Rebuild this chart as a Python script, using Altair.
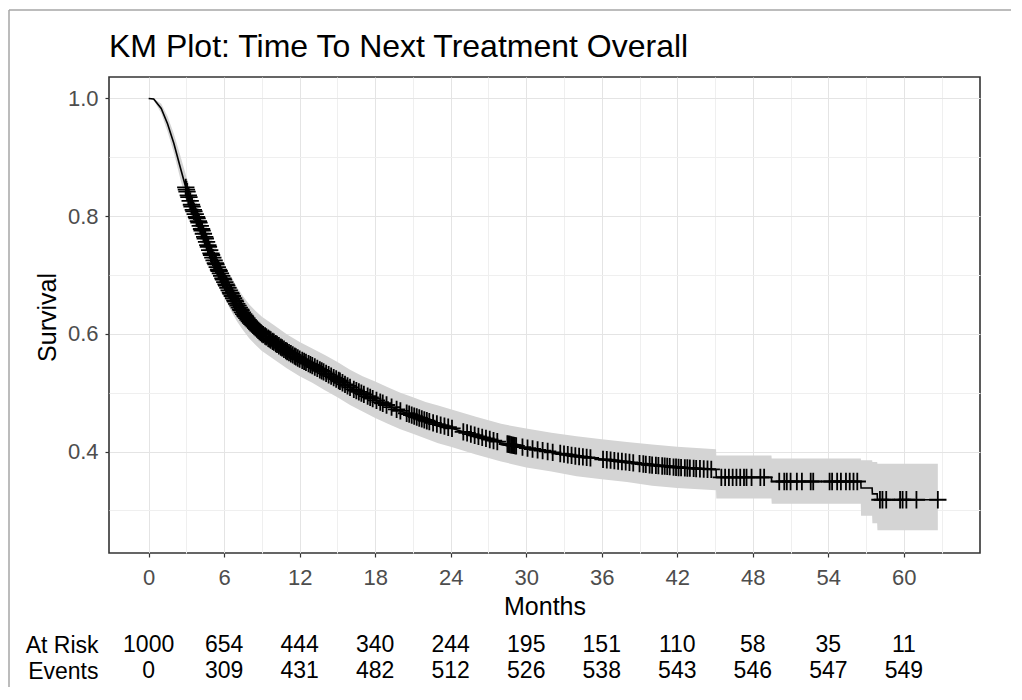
import altair as alt
import pandas as pd
import numpy as np

F = "Liberation Sans, Arial, sans-serif"

# Kaplan-Meier estimate (months, survival, lower CI, upper CI)
curve_t = [0.0, 0.4, 1.0, 1.5, 2.0, 2.5, 3.0, 3.5, 4.0, 4.5, 5.0, 5.5, 6.0, 6.5, 7.0, 7.5,
           8.0, 8.5, 9.0, 10.0, 11.0, 12.0, 13.0, 14.0, 15.0, 16.0, 17.0, 18.0, 19.0, 20.0,
           21.0, 22.0, 23.0, 24.0, 26.0, 28.0, 30.0, 32.0, 34.0, 36.0, 38.0, 40.0, 42.0,
           45.08, 45.1, 49.48, 49.5, 56.58, 56.6, 57.48, 57.5, 57.88, 57.9, 62.7]
curve_s = [1.000, 0.999, 0.983, 0.957, 0.924, 0.884, 0.845, 0.813, 0.789, 0.762, 0.734, 0.711,
           0.690, 0.670, 0.651, 0.635, 0.621, 0.610, 0.600, 0.585, 0.570, 0.557, 0.546, 0.534,
           0.522, 0.509, 0.498, 0.488, 0.478, 0.469, 0.461, 0.453, 0.446, 0.440, 0.427, 0.415,
           0.406, 0.399, 0.392, 0.387, 0.382, 0.377, 0.373,
           0.369, 0.356, 0.356, 0.349, 0.349, 0.338, 0.338, 0.328, 0.328, 0.318, 0.318]
curve_lo = [1.000, 0.997, 0.975, 0.944, 0.908, 0.865, 0.823, 0.789, 0.764, 0.736, 0.707, 0.683,
            0.662, 0.641, 0.622, 0.606, 0.592, 0.581, 0.571, 0.556, 0.541, 0.528, 0.517, 0.504,
            0.492, 0.479, 0.468, 0.457, 0.447, 0.438, 0.430, 0.422, 0.414, 0.408, 0.395, 0.383,
            0.373, 0.366, 0.358, 0.353, 0.348, 0.342, 0.338,
            0.334, 0.320, 0.320, 0.311, 0.311, 0.291, 0.291, 0.278, 0.278, 0.266, 0.266]
curve_hi = [1.000, 1.000, 0.991, 0.970, 0.940, 0.904, 0.867, 0.837, 0.814, 0.788, 0.761, 0.739,
            0.718, 0.699, 0.680, 0.664, 0.650, 0.639, 0.629, 0.614, 0.599, 0.586, 0.575, 0.564,
            0.552, 0.539, 0.528, 0.519, 0.509, 0.500, 0.492, 0.484, 0.478, 0.472, 0.459, 0.447,
            0.439, 0.432, 0.426, 0.421, 0.416, 0.412, 0.408,
            0.404, 0.393, 0.393, 0.388, 0.388, 0.385, 0.385, 0.382, 0.382, 0.379, 0.379]

# Censoring times (months)
censor_t = [2.95, 3.0, 3.05, 3.15, 3.2, 3.3, 3.4, 3.45, 3.55, 3.6, 3.7, 3.8, 3.85, 3.95, 4.0,
            4.1, 4.2, 4.25, 4.35, 4.45, 4.5, 4.6, 4.7, 4.75, 4.85, 4.95, 5.0, 5.1, 5.2, 5.3,
            5.35, 5.45, 5.55, 5.6, 5.7, 5.8, 5.9, 5.95,
            6.05, 6.15, 6.2, 6.3, 6.4, 6.5, 6.55, 6.65, 6.75, 6.85, 6.9, 7.0, 7.1, 7.2, 7.3,
            7.35, 7.45, 7.55, 7.65, 7.7, 7.8, 7.9, 8.0, 8.1, 8.2, 8.3, 8.4, 8.5, 8.6, 8.7,
            8.8, 8.9,
            9.0, 9.1, 9.25, 9.35, 9.5, 9.6, 9.7, 9.85, 9.95, 10.1, 10.2, 10.35, 10.5, 10.6,
            10.75, 10.9, 11.0, 11.15, 11.3, 11.45, 11.6, 11.7, 11.85,
            12.0, 12.2, 12.35, 12.5, 12.7, 12.85, 13.0, 13.2, 13.4, 13.6, 13.75, 13.9, 14.1,
            14.3, 14.5, 14.7, 14.9, 15.1, 15.2, 15.4, 15.6, 15.8, 16.0, 16.3, 16.5, 16.7,
            16.9, 17.1, 17.4, 17.6, 17.8,
            18.1, 18.4, 18.6, 18.9, 19.3, 19.7, 20.0, 20.5, 20.7, 20.9, 21.1, 21.3, 21.5,
            21.7, 21.9, 22.1, 22.3, 22.6, 22.9, 23.2, 23.5, 23.8, 24.1, 25.0, 25.3, 25.6,
            25.9, 26.2, 26.5, 26.8, 27.1, 27.4, 27.7, 28.5, 28.6, 28.7, 28.8, 28.9, 29.0,
            29.1, 29.2, 29.7,
            30.1, 30.5, 30.9, 31.3, 31.7, 32.1, 32.7, 33.0, 33.3, 33.6, 33.9, 34.2, 34.5,
            34.8, 35.1, 36.1, 36.4, 36.7, 37.0, 37.3, 37.6, 37.9, 38.2, 38.5, 39.0, 39.3,
            39.5, 39.8, 40.0, 40.3, 40.5, 40.8, 41.0, 41.2, 41.4, 41.7, 41.9, 42.1, 42.3,
            42.6, 42.8, 43.0, 43.3, 43.5, 43.8, 44.1, 44.4, 44.7,
            45.5, 45.8, 46.1, 46.4, 46.7, 47.0, 47.3, 47.5, 47.9, 48.6, 48.9, 50.1, 50.5,
            50.7, 51.0, 51.5, 51.9, 52.6, 52.8, 54.1, 54.3, 54.7, 55.0, 55.4, 55.7, 56.0,
            56.3, 58.1, 58.3, 58.6, 59.7, 59.9, 60.2, 61.0, 62.7]

# Risk table
risk_times = [0, 6, 12, 18, 24, 30, 36, 42, 48, 54, 60]
at_risk = [1000, 654, 444, 340, 244, 195, 151, 110, 58, 35, 11]
events = [0, 309, 431, 482, 512, 526, 538, 543, 546, 547, 549]

curve = pd.DataFrame({"t": curve_t, "s": curve_s, "lo": curve_lo, "hi": curve_hi})
censor = pd.DataFrame({"t": censor_t,
                       "s": np.interp(censor_t, curve_t, curve_s)})
table = pd.DataFrame({
    "t": risk_times * 2,
    "row": ["At Risk"] * len(risk_times) + ["Events"] * len(risk_times),
    "val": [str(v) for v in at_risk + events],
})

W, H = 871, 476
TAB_H = 52
xs = alt.Scale(domain=[-3.15, 66.05], nice=False, zero=False)
ys = alt.Scale(domain=[0.2275, 1.0365], nice=False, zero=False)

x_axis = alt.Axis(
    values=list(range(0, 64, 3)),
    labelExpr="datum.value % 6 === 0 ? datum.label : ''",
    tickOpacity={"condition": {"test": "datum.value % 6 === 0", "value": 1}, "value": 0},
    gridColor={"condition": {"test": "datum.value % 6 === 0", "value": "#e4e4e4"}, "value": "#efefef"},
    title="Months", titleFontSize=25, titleFont=F, titleColor="black", titleFontWeight="normal",
    titleY=53, titleBaseline="middle",
    labelFontSize=22, labelFont=F, labelColor="#4d4d4d", labelBaseline="middle",
    labelPadding=20, tickSize=4, tickColor="#333333", tickWidth=1.2,
    domain=False, grid=True, gridWidth=1,
)
y_axis = alt.Axis(
    values=[0.3, 0.4, 0.5, 0.6, 0.7, 0.8, 0.9, 1.0],
    labelExpr="round(datum.value * 10) % 2 === 0 ? format(datum.value, '.1f') : ''",
    tickOpacity={"condition": {"test": "round(datum.value * 10) % 2 === 0", "value": 1}, "value": 0},
    gridColor={"condition": {"test": "round(datum.value * 10) % 2 === 0", "value": "#e4e4e4"}, "value": "#efefef"},
    title="Survival", titleFontSize=25, titleFont=F, titleColor="black", titleFontWeight="normal",
    titleX=-62, titleY=240, titleAngle=270, titleBaseline="middle", titleAlign="center",
    labelFontSize=22, labelFont=F, labelColor="#4d4d4d", labelPadding=7,
    tickSize=4, tickColor="#333333", tickWidth=1.2,
    domain=False, grid=True, gridWidth=1,
)

base = alt.Chart(curve)
band = base.mark_area(color="#d4d4d4", opacity=1).encode(
    x=alt.X("t:Q", scale=xs, axis=x_axis),
    y=alt.Y("lo:Q", scale=ys, axis=y_axis),
    y2="hi:Q",
)
line = base.mark_line(color="black", strokeWidth=1.6).encode(
    x=alt.X("t:Q", scale=xs, axis=x_axis),
    y=alt.Y("s:Q", scale=ys, axis=y_axis),
)
marks = alt.Chart(censor).mark_point(
    shape="M-1,0L1,0M0,-1L0,1", size=300, filled=False, color="black",
    strokeWidth=1.8, opacity=1,
).encode(
    x=alt.X("t:Q", scale=xs, axis=x_axis),
    y=alt.Y("s:Q", scale=ys, axis=y_axis),
)

main = alt.layer(band, line, marks).properties(
    width=W, height=H,
    title=alt.TitleParams(
        "KM Plot: Time To Next Treatment Overall", anchor="start", frame="group",
        fontSize=32, font=F, fontWeight="normal", color="black",
        baseline="alphabetic", offset=0, dy=12,
    ),
    view=alt.ViewBackground(stroke="#333333", strokeWidth=1.6),
)

# figure frame (decorative border of the whole picture), placed relative to the table panel
TAB_TOP = 631
frame_df = pd.DataFrame({"a": [0]})
frame_top = alt.Chart(frame_df).mark_rule(color="#a6a6a6", strokeWidth=1.5).encode(
    x=alt.value(-100), x2=alt.value(902), y=alt.value(9 - TAB_TOP))
frame_left = alt.Chart(frame_df).mark_rule(color="#a6a6a6", strokeWidth=1.5).encode(
    x=alt.value(-100), y=alt.value(9 - TAB_TOP), y2=alt.value(686 - TAB_TOP))

text = alt.Chart(table).mark_text(fontSize=23, font=F, color="black", baseline="middle").encode(
    x=alt.X("t:Q", scale=xs, axis=None),
    y=alt.Y("row:N", sort=["At Risk", "Events"],
            scale=alt.Scale(paddingInner=0, paddingOuter=0),
            axis=alt.Axis(title=None, domain=False, ticks=False, grid=False, labelPadding=11,
                          labelFontSize=23, labelFont=F, labelColor="black", labelAlign="right")),
    text="val:N",
)
tab = alt.layer(text, frame_top, frame_left).properties(
    width=W, height=TAB_H, view=alt.ViewBackground(strokeOpacity=0))

chart = alt.vconcat(main, tab, spacing=TAB_TOP - 76 - H, bounds="flush").properties(
    padding={"left": 0, "top": 1, "right": 0, "bottom": 0}
).configure_view(strokeWidth=0)

chart.save("out.html", embed_options={"renderer": "svg", "actions": False})
